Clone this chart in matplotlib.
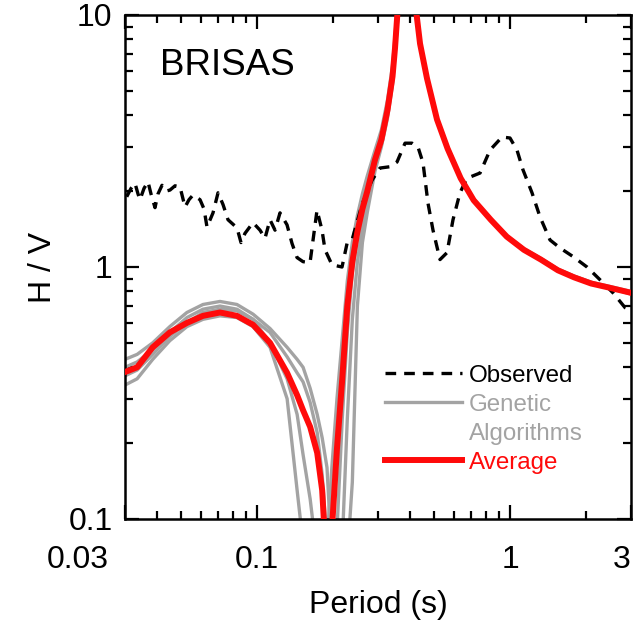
import matplotlib
matplotlib.use("Agg")
import matplotlib.pyplot as plt
from matplotlib.transforms import ScaledTranslation
from matplotlib.lines import Line2D

plt.rcParams['font.family'] = ['Liberation Sans', 'DejaVu Sans']

# ---------------- data ----------------
period_grid = [0.0300, 0.0335, 0.0386, 0.0451, 0.0527, 0.0610, 0.0712, 0.0831, 0.0962, 0.1123,
               0.1312, 0.1437, 0.1517, 0.1618, 0.1725, 0.1805, 0.1886, 0.1971, 0.2065, 0.2167,
               0.2269, 0.2375, 0.2487, 0.2603, 0.2722, 0.2918, 0.3094, 0.3271, 0.3424, 0.3503,
               0.3599, 0.3923, 0.4239, 0.4398, 0.4686, 0.5132, 0.5651, 0.6366, 0.7167, 0.8373,
               0.9680, 1.1317, 1.3213, 1.5431, 1.7862, 2.0866, 2.4366, 3.0]

average_hv = [0.383, 0.40, 0.48, 0.55, 0.60, 0.64, 0.66, 0.64, 0.59, 0.50,
              0.38, 0.31, 0.27, 0.232, 0.183, 0.13, 0.06, 0.09, 0.19, 0.36,
              0.70, 1.05, 1.38, 1.70, 2.0, 2.66, 3.2, 4.2, 5.7, 7.4,
              11, 40, 10.5, 7.7, 5.6, 3.85, 2.95, 2.25, 1.84, 1.54,
              1.32, 1.17, 1.07, 0.97, 0.91, 0.86, 0.83, 0.79]

ga_run1 = [0.43, 0.45, 0.50, 0.58, 0.66, 0.71, 0.73, 0.71, 0.65, 0.57,
           0.48, 0.43, 0.40, 0.33, 0.26, 0.21, 0.16, 0.07, 0.05, 0.08,
           0.25, 0.62, 1.05, 1.45, 1.85, 2.5, 3.05, 4.0, 5.4, 7.0,
           10, 40, 10.8, 7.9, 5.7, 3.9, 3.0, 2.28, 1.86, 1.55,
           1.33, 1.18, 1.08, 0.98, 0.92, 0.87, 0.83, 0.78]
ga_run2 = [0.34, 0.36, 0.43, 0.51, 0.58, 0.62, 0.64, 0.63, 0.58, 0.48,
           0.30, 0.13, 0.08, 0.05, 0.04, 0.04, 0.04, 0.04, 0.04, 0.05,
           0.07, 0.14, 0.7, 1.25, 1.65, 2.4, 3.0, 3.9, 5.3, 7.0,
           10, 40, 10.6, 7.8, 5.6, 3.85, 2.95, 2.25, 1.84, 1.54,
           1.32, 1.17, 1.07, 0.97, 0.91, 0.86, 0.83, 0.79]
ga_run3 = [0.40, 0.42, 0.47, 0.55, 0.63, 0.68, 0.70, 0.68, 0.62, 0.50,
           0.36, 0.26, 0.18, 0.12, 0.07, 0.05, 0.08, 0.16, 0.30, 0.52,
           0.88, 1.25, 1.6, 1.95, 2.3, 2.9, 3.5, 4.6, 6.3, 8.2,
           12, 40, 10.5, 7.7, 5.6, 3.85, 2.95, 2.25, 1.84, 1.54,
           1.32, 1.17, 1.07, 0.97, 0.91, 0.86, 0.83, 0.79]
ga_run4 = [0.37, 0.39, 0.45, 0.53, 0.60, 0.66, 0.68, 0.67, 0.62, 0.55,
           0.44, 0.38, 0.35, 0.29, 0.22, 0.15, 0.08, 0.05, 0.09, 0.25,
           0.55, 0.95, 1.3, 1.65, 1.95, 2.6, 3.15, 4.1, 5.6, 7.3,
           11, 40, 10.6, 7.8, 5.7, 3.9, 2.98, 2.27, 1.85, 1.55,
           1.33, 1.18, 1.08, 0.98, 0.92, 0.87, 0.84, 0.80]

observed_period = [0.03047, 0.03168, 0.03286, 0.03377, 0.03439, 0.03566, 0.03698, 0.03801, 0.03942, 0.04051,
                   0.04201, 0.04357, 0.04518, 0.04729, 0.04949, 0.05180, 0.05372, 0.05570, 0.05938, 0.06158,
                   0.06328, 0.06683, 0.06995, 0.07320, 0.07661, 0.08314, 0.08622, 0.08941, 0.09617, 0.10251,
                   0.10728, 0.11228, 0.11750, 0.12297, 0.13108, 0.13718, 0.14356, 0.15163, 0.16160, 0.17222,
                   0.18024, 0.18523, 0.19738, 0.21624, 0.22631, 0.23684, 0.25939, 0.28410, 0.30553, 0.33463,
                   0.35665, 0.38370, 0.40891, 0.43180, 0.45191, 0.47292, 0.49491, 0.52748, 0.56214, 0.59370,
                   0.63272, 0.67425, 0.75928, 0.83139, 0.92763, 0.99737, 1.06295, 1.12257, 1.21860, 1.31078,
                   1.43562, 1.57236, 1.76962, 2.00964, 2.26239, 2.5464, 2.841, 3.0]
observed_hv = [1.90, 2.05, 2.15, 1.95, 1.85, 2.05, 2.18, 1.95, 1.72, 1.95,
               2.11, 2.00, 2.02, 2.10, 2.08, 1.73, 1.85, 1.93, 1.85, 1.70,
               1.44, 1.64, 1.97, 1.77, 1.54, 1.43, 1.25, 1.36, 1.50, 1.40,
               1.30, 1.54, 1.40, 1.64, 1.47, 1.24, 1.09, 1.05, 1.04, 1.68,
               1.40, 1.17, 1.02, 1.00, 1.24, 1.28, 1.77, 2.21, 2.47, 2.50,
               2.61, 3.10, 3.10, 2.99, 2.59, 1.79, 1.40, 1.07, 1.14, 1.54,
               1.97, 2.25, 2.36, 2.91, 3.28, 3.25, 2.91, 2.43, 1.97, 1.58,
               1.28, 1.19, 1.10, 1.00, 0.89, 0.79, 0.69, 0.675]

x_tick_values = [0.03, 0.1, 1, 3]
x_tick_labels = ['0.03', '0.1', '1', '3']
y_tick_values = [0.1, 1, 10]
y_tick_labels = ['0.1', '1', '10']

# ---------------- figure ----------------
fig = plt.figure(figsize=(6.44, 6.21), dpi=100)
ax = fig.add_axes([125 / 644, 1 - 519 / 621, 506 / 644, 504 / 621])

gray = '#a3a3a3'
red = '#ff0a0a'
for run in (ga_run1, ga_run2, ga_run3, ga_run4):
    ax.plot(period_grid, run, color=gray, lw=2.4, zorder=2, solid_capstyle='butt')
ax.plot(observed_period, observed_hv, color='black', lw=2.4, dashes=(3.2, 2.4), zorder=3)
ax.plot(period_grid, average_hv, color=red, lw=4.3, zorder=4)

ax.set_xscale('log')
ax.set_yscale('log')
ax.set_xlim(0.03, 3)
ax.set_ylim(0.1, 10)

ax.set_xticks(x_tick_values)
ax.set_xticklabels(x_tick_labels)
ax.set_yticks(y_tick_values)
ax.set_yticklabels(y_tick_labels)
ax.tick_params(which='both', direction='in', top=True, right=True, width=1.6, colors='black')
ax.tick_params(which='major', length=10)
ax.tick_params(which='minor', length=5.5)
ax.tick_params(axis='x', which='major', labelsize=23, pad=19)
ax.tick_params(axis='y', which='major', labelsize=23, pad=9)
for s in ax.spines.values():
    s.set_linewidth(1.8)

# shift edge labels like the original
xl = ax.get_xticklabels()
xl[0].set_transform(xl[0].get_transform() + ScaledTranslation(-47 / 100, 0, fig.dpi_scale_trans))
xl[3].set_transform(xl[3].get_transform() + ScaledTranslation(-9 / 100, 0, fig.dpi_scale_trans))

ax.set_xlabel('Period (s)', fontsize=23)
ax.set_ylabel('H / V', fontsize=23)
ax.xaxis.set_label_coords(0.5, -0.141)
ax.yaxis.set_label_coords(-0.133, 0.5)

ax.text(0.069, 0.881, 'BRISAS', transform=ax.transAxes, fontsize=26.5,
        ha='left', va='baseline')

handles = [Line2D([], [], color='black', lw=2.4, dashes=(3.2, 2.4)),
           Line2D([], [], color=gray, lw=2.4),
           Line2D([], [], color='none', lw=0),
           Line2D([], [], color=red, lw=4.3)]
labels = ['Observed', 'Genetic', 'Algorithms', 'Average']
leg = ax.legend(handles, labels, loc='upper left', bbox_to_anchor=(0.514, 0.306),
                frameon=False, fontsize=17.4, handlelength=3.2, handletextpad=0.25,
                labelspacing=0.29, borderpad=0, borderaxespad=0)
for t, c in zip(leg.get_texts(), ['black', gray, gray, red]):
    t.set_color(c)

fig.savefig('out.png', dpi=100)
